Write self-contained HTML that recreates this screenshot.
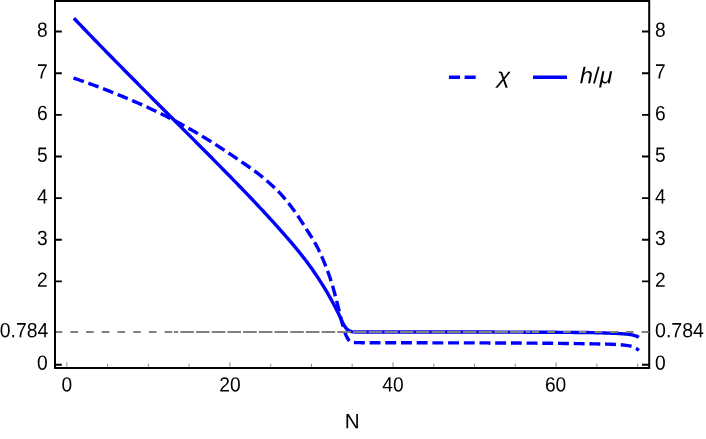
<!DOCTYPE html>
<html><head><meta charset="utf-8"><title>plot</title>
<style>
html,body{margin:0;padding:0;background:#fff;}
body{width:706px;height:439px;position:relative;overflow:hidden;font-family:"Liberation Sans",sans-serif;}
svg text{font-family:"Liberation Sans",sans-serif;fill:#000;}
svg{will-change:transform;}
</style></head><body>
<svg width="706" height="439" viewBox="0 0 706 439" style="position:absolute;left:0;top:0">
<rect width="706" height="439" fill="#fff"/>
<path d="M73.90,18.21 L75.12,19.49 L76.35,20.78 L77.58,22.06 L78.80,23.35 L80.03,24.63 L81.26,25.92 L82.49,27.20 L83.72,28.48 L84.95,29.76 L86.18,31.04 L87.41,32.32 L88.65,33.60 L89.88,34.88 L91.11,36.16 L92.35,37.44 L93.59,38.71 L94.82,39.99 L96.06,41.26 L97.30,42.54 L98.53,43.81 L99.77,45.09 L101.01,46.36 L102.25,47.63 L103.49,48.90 L104.73,50.17 L105.97,51.45 L107.22,52.72 L108.46,53.99 L109.70,55.25 L110.95,56.52 L112.19,57.79 L113.43,59.06 L114.68,60.33 L115.92,61.59 L117.17,62.86 L118.42,64.13 L119.66,65.39 L120.91,66.66 L122.16,67.92 L123.41,69.19 L124.66,70.45 L125.90,71.71 L127.15,72.98 L128.40,74.24 L129.65,75.50 L130.90,76.76 L132.15,78.02 L133.40,79.29 L134.66,80.55 L135.91,81.81 L137.16,83.07 L138.41,84.33 L139.66,85.59 L140.92,86.85 L142.17,88.11 L143.42,89.37 L144.68,90.63 L145.93,91.89 L147.18,93.14 L148.44,94.40 L149.69,95.66 L150.95,96.92 L152.20,98.18 L153.46,99.43 L154.71,100.69 L155.97,101.95 L157.22,103.21 L158.48,104.46 L159.73,105.72 L160.99,106.98 L162.24,108.23 L163.50,109.49 L164.75,110.75 L166.01,112.00 L167.27,113.26 L168.52,114.52 L169.78,115.77 L171.03,117.03 L172.29,118.29 L173.54,119.54 L174.80,120.80 L176.06,122.06 L177.31,123.31 L178.57,124.57 L179.82,125.83 L181.08,127.09 L182.33,128.34 L183.59,129.60 L184.84,130.86 L186.10,132.11 L187.35,133.37 L188.61,134.63 L189.86,135.89 L191.12,137.15 L192.37,138.40 L193.63,139.66 L194.88,140.92 L196.13,142.18 L197.39,143.44 L198.64,144.70 L199.89,145.96 L201.15,147.22 L202.40,148.48 L203.65,149.74 L204.90,151.00 L206.15,152.26 L207.40,153.52 L208.66,154.78 L209.91,156.04 L211.16,157.31 L212.41,158.57 L213.66,159.83 L214.90,161.09 L216.15,162.36 L217.40,163.62 L218.65,164.89 L219.90,166.15 L221.14,167.42 L222.39,168.68 L223.64,169.95 L224.88,171.22 L226.13,172.48 L227.37,173.75 L228.62,175.02 L229.86,176.29 L231.10,177.56 L232.34,178.83 L233.58,180.10 L234.82,181.37 L236.06,182.65 L237.30,183.92 L238.54,185.20 L239.77,186.47 L241.01,187.75 L242.24,189.03 L243.48,190.31 L244.71,191.59 L245.94,192.87 L247.17,194.15 L248.39,195.43 L249.62,196.72 L250.85,198.01 L252.07,199.29 L253.29,200.58 L254.51,201.87 L255.73,203.17 L256.95,204.46 L258.17,205.75 L259.38,207.05 L260.60,208.35 L261.81,209.65 L263.02,210.95 L264.23,212.25 L265.43,213.55 L266.64,214.86 L267.84,216.17 L269.04,217.48 L270.24,218.79 L271.44,220.10 L272.63,221.42 L273.82,222.73 L275.02,224.05 L276.21,225.37 L277.39,226.69 L278.58,228.01 L279.76,229.34 L280.94,230.67 L282.12,232.00 L283.30,233.33 L284.47,234.66 L285.64,236.00 L286.81,237.34 L287.97,238.68 L289.13,240.03 L290.28,241.38 L291.44,242.73 L292.58,244.09 L293.73,245.45 L294.86,246.81 L296.00,248.18 L297.12,249.55 L298.25,250.93 L299.36,252.31 L300.47,253.70 L301.58,255.09 L302.67,256.49 L303.77,257.89 L304.85,259.30 L305.93,260.71 L307.00,262.13 L308.06,263.55 L309.11,264.98 L310.16,266.42 L311.20,267.86 L312.23,269.31 L313.25,270.76 L314.26,272.22 L315.27,273.68 L316.27,275.15 L317.26,276.63 L318.24,278.11 L319.21,279.60 L320.17,281.09 L321.13,282.59 L322.08,284.09 L323.02,285.60 L323.95,287.11 L324.87,288.63 L325.78,290.16 L326.69,291.68 L327.58,293.22 L328.47,294.76 L329.35,296.30 L330.22,297.85 L331.09,299.40 L331.94,300.96 L332.79,302.52 L333.63,304.09 L334.46,305.66 L335.28,307.23 L336.09,308.81 L336.91,310.39 L337.72,311.97 L338.51,313.57 L339.27,315.19 L340.00,316.83 L340.73,318.48 L341.46,320.12 L342.22,321.74 L343.01,323.33 L343.85,324.87 L344.76,326.35 L345.77,327.79 L346.96,329.16 L348.33,330.24 L349.92,331.09 L351.61,331.61 L353.37,331.89 L355.14,331.94 L356.92,331.98 L358.70,332.00 L360.48,332.00 L362.25,332.00 L364.03,332.00 L365.81,332.01 L367.58,332.01 L369.36,332.01 L371.14,332.01 L372.91,332.01 L374.69,332.01 L376.46,332.01 L378.24,332.02 L380.02,332.02 L381.79,332.02 L383.57,332.02 L385.35,332.02 L387.12,332.02 L388.90,332.02 L390.68,332.02 L392.45,332.02 L394.23,332.02 L396.01,332.02 L397.78,332.03 L399.56,332.03 L401.34,332.03 L403.11,332.03 L404.89,332.03 L406.67,332.03 L408.44,332.03 L410.22,332.03 L412.00,332.03 L413.77,332.03 L415.55,332.03 L417.33,332.03 L419.10,332.03 L420.88,332.03 L422.66,332.03 L424.43,332.03 L426.21,332.03 L427.99,332.03 L429.76,332.03 L431.54,332.03 L433.31,332.03 L435.09,332.03 L436.87,332.03 L438.64,332.03 L440.42,332.03 L442.20,332.03 L443.97,332.03 L445.75,332.03 L447.53,332.03 L449.30,332.03 L451.08,332.04 L452.86,332.04 L454.63,332.04 L456.41,332.04 L458.19,332.04 L459.96,332.04 L461.74,332.04 L463.52,332.04 L465.29,332.04 L467.07,332.04 L468.85,332.04 L470.62,332.04 L472.40,332.04 L474.18,332.05 L475.95,332.05 L477.73,332.05 L479.51,332.05 L481.28,332.05 L483.06,332.05 L484.84,332.06 L486.61,332.06 L488.39,332.06 L490.17,332.06 L491.94,332.07 L493.72,332.07 L495.50,332.08 L497.27,332.08 L499.05,332.09 L500.83,332.09 L502.60,332.10 L504.38,332.10 L506.15,332.11 L507.93,332.11 L509.71,332.12 L511.48,332.13 L513.26,332.13 L515.04,332.14 L516.81,332.15 L518.59,332.16 L520.37,332.16 L522.14,332.17 L523.92,332.18 L525.70,332.19 L527.47,332.19 L529.25,332.20 L531.03,332.21 L532.80,332.22 L534.58,332.23 L536.36,332.23 L538.13,332.24 L539.91,332.25 L541.69,332.26 L543.46,332.27 L545.24,332.27 L547.02,332.28 L548.79,332.29 L550.57,332.30 L552.35,332.31 L554.12,332.32 L555.90,332.32 L557.68,332.33 L559.45,332.34 L561.23,332.35 L563.01,332.36 L564.78,332.37 L566.56,332.39 L568.33,332.40 L570.11,332.41 L571.89,332.42 L573.66,332.44 L575.44,332.45 L577.22,332.47 L578.99,332.48 L580.77,332.50 L582.55,332.52 L584.32,332.53 L586.10,332.55 L587.88,332.57 L589.65,332.60 L591.43,332.62 L593.20,332.65 L594.98,332.69 L596.76,332.74 L598.53,332.79 L600.31,332.85 L602.08,332.91 L603.86,332.96 L605.64,333.02 L607.41,333.08 L609.19,333.14 L610.96,333.20 L612.74,333.27 L614.51,333.34 L616.29,333.42 L618.06,333.51 L619.84,333.61 L621.61,333.72 L623.38,333.85 L625.16,334.01 L626.93,334.18 L628.69,334.38 L630.44,334.62 L632.20,334.94 L633.93,335.33 L635.65,335.80 L637.30,336.45 L638.80,337.40" fill="none" stroke="#0000ff" stroke-width="3.4" stroke-linejoin="round"/>
<path d="M73.50,78.10 L75.16,78.65 L76.81,79.20 L78.47,79.76 L80.12,80.32 L81.77,80.89 L83.42,81.46 L85.06,82.04 L86.70,82.62 L88.35,83.21 L89.99,83.80 L91.63,84.39 L93.26,84.99 L94.90,85.59 L96.53,86.20 L98.16,86.81 L99.79,87.42 L101.42,88.04 L103.04,88.67 L104.67,89.29 L106.29,89.92 L107.91,90.56 L109.53,91.20 L111.15,91.84 L112.76,92.48 L114.38,93.13 L115.99,93.78 L117.60,94.44 L119.21,95.09 L120.82,95.75 L122.43,96.42 L124.03,97.08 L125.64,97.75 L127.24,98.43 L128.84,99.10 L130.44,99.78 L132.04,100.46 L133.63,101.14 L135.23,101.83 L136.82,102.52 L138.42,103.21 L140.01,103.90 L141.60,104.60 L143.18,105.31 L144.77,106.02 L146.35,106.74 L147.93,107.46 L149.51,108.19 L151.09,108.93 L152.66,109.68 L154.24,110.42 L155.81,111.18 L157.37,111.94 L158.94,112.70 L160.50,113.47 L162.06,114.25 L163.62,115.03 L165.18,115.81 L166.73,116.59 L168.28,117.38 L169.83,118.18 L171.38,118.97 L172.92,119.77 L174.46,120.58 L176.00,121.38 L177.54,122.20 L179.08,123.01 L180.61,123.84 L182.14,124.67 L183.66,125.51 L185.19,126.35 L186.71,127.20 L188.23,128.05 L189.74,128.91 L191.25,129.77 L192.76,130.64 L194.27,131.51 L195.77,132.39 L197.27,133.27 L198.76,134.16 L200.26,135.05 L201.74,135.95 L203.23,136.85 L204.72,137.75 L206.20,138.66 L207.68,139.58 L209.15,140.50 L210.63,141.42 L212.10,142.35 L213.57,143.28 L215.04,144.21 L216.51,145.15 L217.97,146.09 L219.44,147.04 L220.90,147.98 L222.36,148.94 L223.81,149.89 L225.27,150.85 L226.72,151.81 L228.17,152.77 L229.62,153.74 L231.07,154.71 L232.51,155.68 L233.95,156.65 L235.40,157.63 L236.83,158.60 L238.27,159.58 L239.71,160.56 L241.14,161.55 L242.57,162.53 L244.01,163.52 L245.44,164.51 L246.88,165.50 L248.31,166.49 L249.74,167.49 L251.16,168.50 L252.58,169.51 L253.99,170.54 L255.39,171.57 L256.77,172.62 L258.15,173.67 L259.51,174.75 L260.86,175.83 L262.21,176.93 L263.56,178.04 L264.90,179.15 L266.23,180.28 L267.56,181.42 L268.88,182.57 L270.18,183.72 L271.48,184.89 L272.77,186.07 L274.04,187.27 L275.30,188.47 L276.54,189.68 L277.76,190.91 L278.97,192.15 L280.16,193.40 L281.33,194.67 L282.49,195.96 L283.64,197.27 L284.77,198.60 L285.89,199.94 L286.99,201.29 L288.09,202.65 L289.17,204.03 L290.24,205.41 L291.30,206.79 L292.34,208.18 L293.38,209.57 L294.40,210.97 L295.41,212.39 L296.41,213.81 L297.40,215.24 L298.37,216.69 L299.33,218.14 L300.29,219.59 L301.24,221.06 L302.18,222.52 L303.12,223.99 L304.06,225.46 L305.00,226.92 L305.93,228.39 L306.87,229.86 L307.81,231.32 L308.75,232.79 L309.69,234.26 L310.62,235.74 L311.55,237.21 L312.46,238.70 L313.36,240.19 L314.25,241.68 L315.12,243.19 L315.97,244.70 L316.79,246.23 L317.60,247.76 L318.38,249.31 L319.15,250.88 L319.89,252.45 L320.63,254.03 L321.34,255.62 L322.05,257.22 L322.73,258.82 L323.41,260.42 L324.07,262.02 L324.73,263.63 L325.38,265.25 L326.02,266.87 L326.65,268.49 L327.27,270.12 L327.88,271.75 L328.47,273.39 L329.06,275.03 L329.63,276.68 L330.19,278.32 L330.73,279.97 L331.26,281.63 L331.78,283.28 L332.28,284.95 L332.77,286.62 L333.25,288.29 L333.72,289.96 L334.18,291.64 L334.64,293.32 L335.09,295.01 L335.53,296.69 L335.98,298.37 L336.42,300.06 L336.86,301.74 L337.30,303.43 L337.74,305.11 L338.16,306.80 L338.57,308.49 L338.98,310.18 L339.38,311.88 L339.78,313.57 L340.18,315.27 L340.59,316.96 L341.01,318.65 L341.44,320.34 L341.88,322.01 L342.35,323.69 L342.83,325.36 L343.31,327.05 L343.80,328.75 L344.31,330.44 L344.85,332.11 L345.43,333.75 L346.08,335.34 L346.79,336.88 L347.63,338.48 L348.64,340.03 L349.82,341.19 L351.29,341.89 L353.05,342.39 L354.78,342.53 L356.50,342.58 L358.24,342.63 L359.99,342.66 L361.74,342.68 L363.49,342.69 L365.24,342.70 L366.98,342.71 L368.72,342.71 L370.46,342.72 L372.20,342.73 L373.94,342.73 L375.67,342.74 L377.41,342.74 L379.15,342.75 L380.89,342.75 L382.63,342.76 L384.37,342.76 L386.11,342.77 L387.85,342.77 L389.59,342.77 L391.33,342.78 L393.07,342.78 L394.81,342.78 L396.55,342.79 L398.29,342.79 L400.03,342.79 L401.77,342.80 L403.51,342.80 L405.25,342.80 L406.99,342.80 L408.73,342.81 L410.47,342.81 L412.21,342.81 L413.95,342.81 L415.69,342.81 L417.43,342.82 L419.17,342.82 L420.91,342.82 L422.65,342.82 L424.39,342.82 L426.13,342.82 L427.87,342.82 L429.61,342.83 L431.35,342.83 L433.09,342.83 L434.83,342.83 L436.57,342.83 L438.31,342.83 L440.05,342.84 L441.79,342.84 L443.53,342.84 L445.27,342.84 L447.01,342.84 L448.75,342.84 L450.49,342.85 L452.23,342.85 L453.97,342.85 L455.71,342.85 L457.45,342.85 L459.19,342.86 L460.93,342.86 L462.67,342.86 L464.41,342.87 L466.15,342.87 L467.89,342.87 L469.63,342.88 L471.37,342.88 L473.11,342.88 L474.85,342.89 L476.59,342.89 L478.33,342.90 L480.07,342.90 L481.81,342.91 L483.55,342.91 L485.29,342.92 L487.03,342.92 L488.77,342.93 L490.51,342.93 L492.25,342.94 L493.99,342.95 L495.73,342.95 L497.47,342.96 L499.21,342.97 L500.95,342.97 L502.69,342.98 L504.43,342.99 L506.17,343.00 L507.91,343.01 L509.65,343.02 L511.39,343.02 L513.13,343.03 L514.87,343.04 L516.61,343.05 L518.35,343.06 L520.09,343.07 L521.83,343.08 L523.57,343.09 L525.31,343.10 L527.05,343.11 L528.79,343.12 L530.53,343.14 L532.27,343.15 L534.01,343.16 L535.75,343.17 L537.49,343.18 L539.23,343.19 L540.97,343.21 L542.71,343.22 L544.45,343.23 L546.19,343.25 L547.93,343.26 L549.67,343.28 L551.41,343.30 L553.15,343.31 L554.89,343.33 L556.63,343.35 L558.37,343.37 L560.11,343.39 L561.85,343.41 L563.59,343.43 L565.33,343.45 L567.07,343.47 L568.81,343.50 L570.55,343.52 L572.28,343.54 L574.02,343.57 L575.76,343.59 L577.50,343.61 L579.24,343.64 L580.98,343.66 L582.72,343.69 L584.46,343.72 L586.20,343.74 L587.94,343.77 L589.68,343.80 L591.42,343.82 L593.16,343.85 L594.90,343.88 L596.64,343.90 L598.38,343.93 L600.12,343.96 L601.86,344.00 L603.60,344.03 L605.34,344.07 L607.08,344.12 L608.82,344.16 L610.56,344.22 L612.30,344.29 L614.03,344.37 L615.77,344.46 L617.51,344.57 L619.25,344.69 L620.98,344.82 L622.71,344.97 L624.45,345.14 L626.18,345.35 L627.90,345.58 L629.61,345.89 L631.31,346.28 L632.97,346.78 L634.60,347.46 L636.12,348.27 L637.51,349.28 L638.80,350.50" fill="none" stroke="#0000ff" stroke-width="3.4" stroke-dasharray="10.9 4.8" stroke-linejoin="round"/>
<line x1="54.7" y1="332" x2="530.1" y2="332" stroke="#808080" stroke-width="1.9" stroke-dasharray="7.6 8.1"/>
<line x1="174.0" y1="332" x2="649" y2="332" stroke="#808080" stroke-width="1.9" stroke-dasharray="7.6 8.1" stroke-dashoffset="3.4"/>
<path d="M55.0,0 V367.9 M649.2,0 V367.9 M54.0,367.9 H650.2 M54.0,0.9 H650.2" fill="none" stroke="#000" stroke-width="2"/>
<path d="M55.0,364.70 h6.8 M649.2,364.70 h-7.2" stroke="#000" stroke-width="1.9"/>
<path d="M55.0,281.41 h6.8 M649.2,281.41 h-7.2" stroke="#000" stroke-width="1.9"/>
<path d="M55.0,239.76 h6.8 M649.2,239.76 h-7.2" stroke="#000" stroke-width="1.9"/>
<path d="M55.0,198.12 h6.8 M649.2,198.12 h-7.2" stroke="#000" stroke-width="1.9"/>
<path d="M55.0,156.47 h6.8 M649.2,156.47 h-7.2" stroke="#000" stroke-width="1.9"/>
<path d="M55.0,114.83 h6.8 M649.2,114.83 h-7.2" stroke="#000" stroke-width="1.9"/>
<path d="M55.0,73.18 h6.8 M649.2,73.18 h-7.2" stroke="#000" stroke-width="1.9"/>
<path d="M55.0,31.54 h6.8 M649.2,31.54 h-7.2" stroke="#000" stroke-width="1.9"/>
<path d="M649.2,332.00 h-5" stroke="#808080" stroke-width="1.5"/>
<path d="M66.80,366.9 v-4.6" stroke="#808080" stroke-width="0.9"/>
<path d="M107.57,366.9 v-3.2" stroke="#808080" stroke-width="0.9"/>
<path d="M148.35,366.9 v-3.2" stroke="#808080" stroke-width="0.9"/>
<path d="M189.12,366.9 v-3.2" stroke="#808080" stroke-width="0.9"/>
<path d="M229.90,366.9 v-4.6" stroke="#808080" stroke-width="0.9"/>
<path d="M270.67,366.9 v-3.2" stroke="#808080" stroke-width="0.9"/>
<path d="M311.45,366.9 v-3.2" stroke="#808080" stroke-width="0.9"/>
<path d="M352.22,366.9 v-3.2" stroke="#808080" stroke-width="0.9"/>
<path d="M393.00,366.9 v-4.6" stroke="#808080" stroke-width="0.9"/>
<path d="M433.77,366.9 v-3.2" stroke="#808080" stroke-width="0.9"/>
<path d="M474.55,366.9 v-3.2" stroke="#808080" stroke-width="0.9"/>
<path d="M515.32,366.9 v-3.2" stroke="#808080" stroke-width="0.9"/>
<path d="M556.10,366.9 v-4.6" stroke="#808080" stroke-width="0.9"/>
<path d="M596.87,366.9 v-3.2" stroke="#808080" stroke-width="0.9"/>
<path d="M637.65,366.9 v-3.2" stroke="#808080" stroke-width="0.9"/>
<text transform="translate(47.8,369.7) scale(0.932,1) rotate(0.05)" font-size="20.6" text-anchor="end" >0</text>
<text transform="translate(655,369.7) scale(0.932,1) rotate(0.05)" font-size="20.6" text-anchor="start" >0</text>
<text transform="translate(47.8,286.71) scale(0.932,1) rotate(0.05)" font-size="20.6" text-anchor="end" >2</text>
<text transform="translate(655,286.71) scale(0.932,1) rotate(0.05)" font-size="20.6" text-anchor="start" >2</text>
<text transform="translate(47.8,245.06) scale(0.932,1) rotate(0.05)" font-size="20.6" text-anchor="end" >3</text>
<text transform="translate(655,245.06) scale(0.932,1) rotate(0.05)" font-size="20.6" text-anchor="start" >3</text>
<text transform="translate(47.8,203.42) scale(0.932,1) rotate(0.05)" font-size="20.6" text-anchor="end" >4</text>
<text transform="translate(655,203.42) scale(0.932,1) rotate(0.05)" font-size="20.6" text-anchor="start" >4</text>
<text transform="translate(47.8,161.77) scale(0.932,1) rotate(0.05)" font-size="20.6" text-anchor="end" >5</text>
<text transform="translate(655,161.77) scale(0.932,1) rotate(0.05)" font-size="20.6" text-anchor="start" >5</text>
<text transform="translate(47.8,120.13) scale(0.932,1) rotate(0.05)" font-size="20.6" text-anchor="end" >6</text>
<text transform="translate(655,120.13) scale(0.932,1) rotate(0.05)" font-size="20.6" text-anchor="start" >6</text>
<text transform="translate(47.8,78.48) scale(0.932,1) rotate(0.05)" font-size="20.6" text-anchor="end" >7</text>
<text transform="translate(655,78.48) scale(0.932,1) rotate(0.05)" font-size="20.6" text-anchor="start" >7</text>
<text transform="translate(47.8,36.84) scale(0.932,1) rotate(0.05)" font-size="20.6" text-anchor="end" >8</text>
<text transform="translate(655,36.84) scale(0.932,1) rotate(0.05)" font-size="20.6" text-anchor="start" >8</text>
<text transform="translate(48.2,337.25) scale(0.94,1) rotate(0.05)" font-size="20.6" text-anchor="end" >0.784</text>
<text transform="translate(655,337.2) scale(0.95,1) rotate(0.05)" font-size="20.6" text-anchor="start" >0.784</text>
<text transform="translate(66.8,391.6) scale(0.932,1) rotate(0.05)" font-size="20.6" text-anchor="middle" >0</text>
<text transform="translate(229.9,391.6) scale(0.932,1) rotate(0.05)" font-size="20.6" text-anchor="middle" >20</text>
<text transform="translate(393.0,391.6) scale(0.932,1) rotate(0.05)" font-size="20.6" text-anchor="middle" >40</text>
<text transform="translate(555.6,391.6) scale(0.932,1) rotate(0.05)" font-size="20.6" text-anchor="middle" >60</text>
<text transform="translate(352.1,428.3) scale(1.0,1) rotate(0.05)" font-size="20.6" text-anchor="middle" >N</text>
<path d="M448.9,77.3 H476.1" stroke="#0000ff" stroke-width="3.4" stroke-dasharray="11.1 4.6"/>
<path d="M533,77.3 H567" stroke="#0000ff" stroke-width="3.4"/>
<text transform="translate(497.0,83.2) scale(1.11,1) rotate(0.05)" font-size="22" text-anchor="start" font-style="italic">χ</text>
<text transform="translate(579.8,83.3) scale(1.047,1) rotate(0.05)" font-size="22.7" text-anchor="start" font-style="italic">h<tspan font-style="normal">/</tspan>μ</text>
</svg>
</body></html>
